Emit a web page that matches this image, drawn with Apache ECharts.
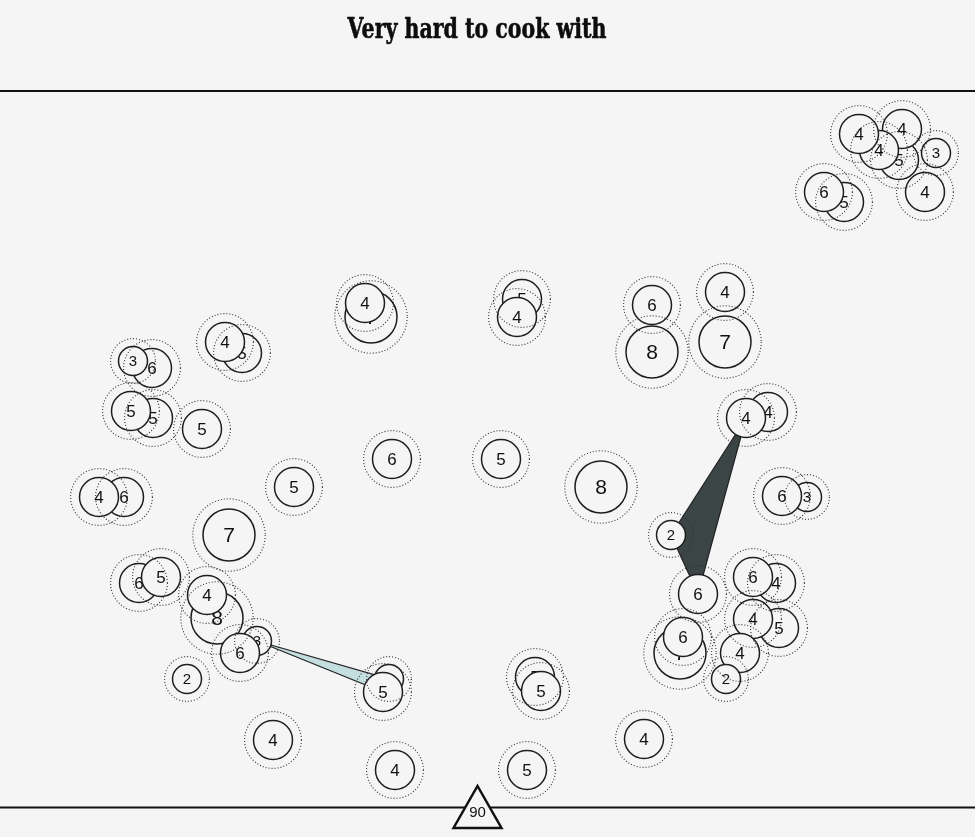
<!DOCTYPE html>
<html>
<head>
<meta charset="utf-8">
<script src="https://cdn.jsdelivr.net/npm/echarts@6/dist/echarts.min.js"></script>
<style>
html,body{margin:0;padding:0;background:#f6f5f5;}
#main{width:975px;height:837px;}
</style>
</head>
<body>
<div id="main"></div>
<script>
// ---- data ----
const title = "Very hard to cook with";
const markerValue = "90";
// position of each circle in the plot's own units (x to the right, y downward)
const xs = [844,824,899,902,879,859,936,925,
            152,133,153,131,242,225,202,124,99,294,229,139,161,217,207,257,240,187,273,
            371,365,522,517,392,501,601,389,383,535,541,395,527,644,
            652,652,725,725,768,746,807,782,671,698,776,753,779,753,680,683,740,726];
const ys = [202,192,160,129,150,134,153,192,
            368,361,418,411,353,342,429,497,497,487,535,583,577,618,595,641,653,679,740,
            317,303,299,317,459,459,487,679,692,677,691,770,770,739,
            305,352,292,342,412,418,497,496,535,594,583,577,628,619,653,637,653,679];
const values = [5,6,5,4,4,4,3,4,
                6,3,5,5,5,4,5,6,4,5,7,6,5,8,4,3,6,2,4,
                7,4,5,4,6,5,8,5,5,5,5,4,5,4,
                6,8,4,7,4,4,3,6,2,6,4,6,5,4,7,6,4,2];
// size tier of each circle: 1 small, 2 medium, 3 large
const tiers = [2,2,2,2,2,2,1,2,
               2,1,2,2,2,2,2,2,2,2,3,2,2,3,2,1,2,1,2,
               3,2,2,2,2,2,3,1,2,2,2,2,2,2,
               2,3,2,3,2,2,1,2,1,2,2,2,2,2,3,2,2,1];
// wedges connecting circles (indices into the arrays above)
const wedgeLinks = [[46,49,50],[23,34,35]];
const wedgeKinds = ["dark","light"];

// ---- styles ----
const BG = '#f6f5f5';
const RADIUS = {1:14.5, 2:19.5, 3:26};
const FONT = {1:15, 2:17, 3:21};
const WEDGE_FILL = {dark:'#3c4545', light:'#c4dde1'};

const points = xs.map((x,i)=>[x, ys[i], values[i], tiers[i]]);
const wedgeData = wedgeLinks.map((l,i)=>[i]);

const chart = echarts.init(document.getElementById('main'), null, {renderer:'canvas'});
chart.setOption({
  backgroundColor: BG,
  animation: false,
  grid: {left:0, right:0, top:0, bottom:0},
  xAxis: {type:'value', min:0, max:975, show:false},
  yAxis: {type:'value', min:0, max:837, inverse:true, show:false},
  graphic: [
    {type:'text', x:477, y:31, z:10, scaleX:0.76, originX:0, originY:0,
      style:{text:title, fill:'#0d0d0d', textAlign:'center', textVerticalAlign:'middle',
      font:'bold 27px "DejaVu Serif", serif', stroke:'#0d0d0d', lineWidth:0.6}},
    {type:'line', z:10, shape:{x1:0, y1:91, x2:975, y2:91}, style:{stroke:'#111', lineWidth:2}},
    {type:'line', z:10, shape:{x1:0, y1:807.5, x2:975, y2:807.5}, style:{stroke:'#111', lineWidth:2}},
    {type:'polygon', z:11, shape:{points:[[453.5,828],[477.5,786],[501.5,828]]}, style:{fill:BG, stroke:'#111', lineWidth:2.5}},
    {type:'text', x:477.5, y:813, z:12, style:{text:markerValue, fill:'#111', textAlign:'center', textVerticalAlign:'middle',
      font:'15px "Liberation Sans", Arial, sans-serif'}}
  ],
  series: [
    {
      type:'custom', z:1, coordinateSystem:'cartesian2d', data: wedgeData,
      renderItem: function(params, api){
        const w = api.value(0);
        const pts = wedgeLinks[w].map(i=>api.coord([xs[i], ys[i]]));
        return {type:'polygon', shape:{points:pts}, style:{fill:WEDGE_FILL[wedgeKinds[w]], stroke:'#222', lineWidth:1.2}};
      }
    },
    {
      type:'custom', z:2, coordinateSystem:'cartesian2d', data: points,
      encode:{x:0, y:1},
      renderItem: function(params, api){
        const c = api.coord([api.value(0), api.value(1)]);
        const t = api.value(3);
        const r = RADIUS[t];
        return {type:'group', children:[
          {type:'circle', shape:{cx:c[0], cy:c[1], r:r}, style:{fill:BG, stroke:'#1e1e1e', lineWidth:1.5}},
          {type:'text', x:c[0], y:c[1]+1, style:{text:String(api.value(2)), fill:'#111', textAlign:'center', textVerticalAlign:'middle',
            font: FONT[t]+'px "Liberation Sans", Arial, sans-serif'}}
        ]};
      }
    },
    {
      type:'custom', z:3, coordinateSystem:'cartesian2d', data: points,
      encode:{x:0, y:1}, silent:true,
      renderItem: function(params, api){
        const c = api.coord([api.value(0), api.value(1)]);
        const r = RADIUS[api.value(3)]*1.2+5;
        return {type:'circle', shape:{cx:c[0], cy:c[1], r:r}, style:{fill:null, stroke:'#333', lineWidth:1.1, lineDash:[1,2]}};
      }
    }
  ]
});
</script>
</body>
</html>
